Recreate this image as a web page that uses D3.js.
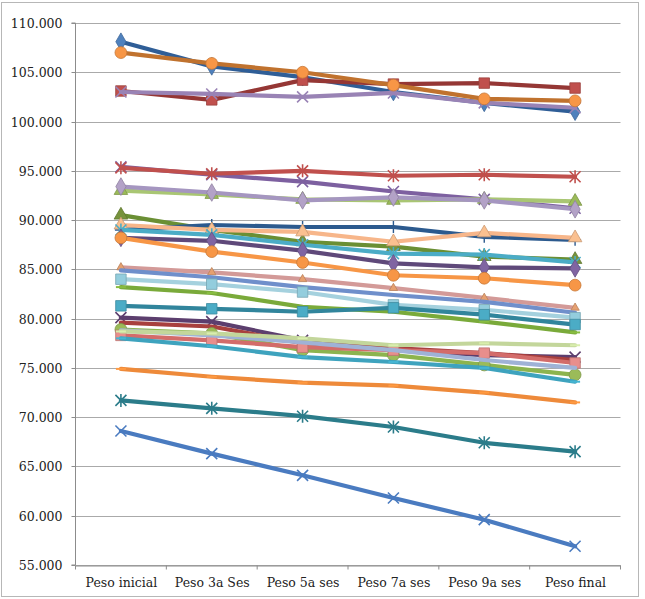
<!DOCTYPE html>
<html>
<head>
<meta charset="utf-8">
<script src="https://cdn.jsdelivr.net/npm/d3@7"></script>
<style>
  html, body { margin: 0; padding: 0; background: #fff; }
  svg { display: block; }
  text { font-family: "DejaVu Serif", "Liberation Serif", serif; fill: #222; }
</style>
</head>
<body>
<svg id="chart" width="645" height="599"></svg>
<script>
// ---------------- DATA ----------------
const categories = ["Peso inicial", "Peso 3a Ses", "Peso 5a ses", "Peso 7a ses", "Peso 9a ses", "Peso final"];
const yTicks = [55, 60, 65, 70, 75, 80, 85, 90, 95, 100, 105, 110];

const s01 = [108.1, 105.6, 104.5, 103.0, 101.9, 101.0];
const s02 = [103.1, 102.2, 104.2, 103.8, 103.9, 103.4];
const s03 = [103.0, 102.8, 102.5, 102.9, 101.9, 101.4];
const s04 = [107.0, 105.9, 105.0, 103.7, 102.3, 102.1];
const s05 = [95.4, 94.6, 93.9, 92.9, 92.1, 91.2];
const s06 = [95.3, 94.7, 95.0, 94.5, 94.6, 94.4];
const s07 = [93.0, 92.6, 92.1, 92.0, 92.1, 91.9];
const s08 = [93.4, 92.8, 92.0, 92.3, 92.0, 91.1];
const s09 = [90.5, 89.0, 87.8, 87.3, 86.3, 86.0];
const s10 = [89.0, 89.5, 89.3, 89.3, 88.3, 88.0];
const s11 = [89.5, 89.0, 88.8, 87.8, 88.7, 88.2];
const s12 = [89.0, 88.5, 87.5, 86.6, 86.5, 85.7];
const s13 = [88.2, 87.9, 86.9, 85.6, 85.2, 85.1];
const s14 = [88.2, 86.8, 85.7, 84.4, 84.1, 83.4];
const s15 = [85.2, 84.7, 84.0, 83.1, 82.1, 81.1];
const s16 = [84.9, 84.2, 83.2, 82.4, 81.7, 80.6];
const s17 = [84.0, 83.5, 82.7, 81.4, 80.9, 80.1];
const s18 = [83.2, 82.6, 81.2, 80.7, 79.7, 78.6];
const s19 = [81.3, 81.0, 80.7, 81.1, 80.4, 79.4];
const s20 = [80.1, 79.7, 77.8, 76.8, 76.3, 76.1];
const s21 = [79.6, 79.2, 77.5, 77.0, 76.5, 75.8];
const s22 = [78.9, 78.5, 76.8, 76.3, 75.3, 74.3];
const s23 = [78.3, 77.8, 77.1, 76.8, 76.5, 75.5];
const s24 = [78.8, 78.3, 77.6, 76.8, 75.8, 75.0];
const s25 = [78.7, 78.5, 78.0, 77.3, 77.5, 77.3];
const s26 = [78.0, 77.2, 76.1, 75.6, 75.0, 73.6];
const s27 = [74.9, 74.1, 73.5, 73.2, 72.5, 71.5];
const s28 = [71.7, 70.9, 70.1, 69.0, 67.4, 66.5];
const s29 = [68.6, 66.3, 64.1, 61.8, 59.6, 56.9];

const seriesValues = [s01, s02, s03, s04, s05, s06, s07, s08, s09, s10, s11, s12, s13, s14, s15,
                      s16, s17, s18, s19, s20, s21, s22, s23, s24, s25, s26, s27, s28, s29];

// ---------------- STYLES (separate from data) ----------------
const styles = [
  { line: "#2F5E97", fill: "#4F81BD", marker: "diamond" },
  { line: "#953735", fill: "#C0504D", marker: "square" },
  { line: "#9983B5", fill: "#9983B5", marker: "x" },
  { line: "#C0722E", fill: "#F79646", marker: "circle" },
  { line: "#7D60A0", fill: "#7D60A0", marker: "x" },
  { line: "#C0504D", fill: "#C0504D", marker: "star" },
  { line: "#A9C673", fill: "#9BBB59", marker: "triangle" },
  { line: "#A596C0", fill: "#B3A2C7", marker: "diamond" },
  { line: "#6A8F34", fill: "#77933C", marker: "triangle" },
  { line: "#2C5A8E", fill: "#2C5A8E", marker: "plus" },
  { line: "#F7B68A", fill: "#FAC090", marker: "triangle" },
  { line: "#4BACC6", fill: "#4BACC6", marker: "star" },
  { line: "#5F497A", fill: "#8064A2", marker: "diamond" },
  { line: "#F79646", fill: "#F79646", marker: "circle" },
  { line: "#D39A98", fill: "#E6A070", marker: "triangleSmall" },
  { line: "#6F8FCB", fill: "#6F8FCB", marker: "none" },
  { line: "#A5D1DE", fill: "#93CDDD", marker: "square" },
  { line: "#7AAA3A", fill: "#7AAA3A", marker: "dash" },
  { line: "#31859C", fill: "#4BACC6", marker: "square" },
  { line: "#5C3E6E", fill: "#5C3E6E", marker: "x" },
  { line: "#A8403E", fill: "#A8403E", marker: "none" },
  { line: "#8CB44E", fill: "#9BBB59", marker: "circle" },
  { line: "#D36C6A", fill: "#E88E8C", marker: "square" },
  { line: "#9FB2D6", fill: "#9FB2D6", marker: "none" },
  { line: "#C3D69B", fill: "#C3D69B", marker: "dash" },
  { line: "#3EA3BE", fill: "#3EA3BE", marker: "dash" },
  { line: "#EE8A3A", fill: "#EE8A3A", marker: "dash" },
  { line: "#2B7C8A", fill: "#2B7C8A", marker: "star" },
  { line: "#4A7BC0", fill: "#4A7BC0", marker: "x" }
];

// ---------------- CHART ----------------
const svg = d3.select("#chart");
const plot = { left: 75.5, right: 620.5, top: 23, bottom: 565 };

// outer frame
svg.append("rect")
  .attr("x", 1.5).attr("y", 2.5).attr("width", 637).attr("height", 594)
  .attr("fill", "none").attr("stroke", "#b7b7b7").attr("stroke-width", 1);

const x = d3.scalePoint().domain(categories).range([plot.left, plot.right]).padding(0.5);
const y = d3.scaleLinear().domain([55, 110]).range([plot.bottom, plot.top]);

// gridlines
svg.append("g").selectAll("line").data(yTicks).join("line")
  .attr("x1", plot.left).attr("x2", plot.right)
  .attr("y1", d => Math.round(y(d)) + 0.5).attr("y2", d => Math.round(y(d)) + 0.5)
  .attr("stroke", "#aaaaaa").attr("stroke-width", 1);

// y axis
const yAxis = d3.axisLeft(y).tickValues(yTicks).tickSize(4).tickPadding(9)
  .tickFormat(d => d3.format(".3f")(d).replace(",", ""));
const gy = svg.append("g").attr("transform", `translate(${plot.left},0)`).call(yAxis);
gy.select(".domain").attr("stroke", "#8c8c8c").attr("d", `M-4,${plot.top}H0V${plot.bottom}H-4`);
gy.selectAll(".tick line").attr("stroke", "#8c8c8c");
gy.selectAll(".tick text").style("font-family", "DejaVu Serif, serif").style("font-size", "12.5px").attr("fill", "#222");
gy.selectAll(".tick").attr("transform", d => `translate(0,${Math.round(y(d)) + 0.5})`);

// x axis
const xAxis = d3.axisBottom(x).tickSize(0).tickPadding(13);
const gx = svg.append("g").attr("transform", `translate(0,${Math.round(y(55)) + 0.5})`).call(xAxis);
gx.select(".domain").attr("stroke", "#8c8c8c");
gx.selectAll(".tick text").style("font-family", "DejaVu Serif, serif").style("font-size", "12.5px").attr("fill", "#222");
// category boundary ticks
const step = x.step();
gx.append("g").selectAll("line").data(d3.range(categories.length + 1)).join("line")
  .attr("x1", i => plot.left + i * step).attr("x2", i => plot.left + i * step)
  .attr("y1", 0).attr("y2", 4).attr("stroke", "#8c8c8c");

// lines
const line = d3.line().x((d, i) => x(categories[i])).y(d => y(d));

const markerPath = (type) => {
  switch (type) {
    case "diamond": return d3.symbol(d3.symbolDiamond, 90)();
    case "square": return d3.symbol(d3.symbolSquare, 110)();
    case "triangle": return d3.symbol(d3.symbolTriangle, 80)();
    case "triangleSmall": return d3.symbol(d3.symbolTriangle, 30)();
    case "circle": return d3.symbol(d3.symbolCircle, 110)();
    default: return null;
  }
};

const gSeries = svg.append("g");
seriesValues.forEach((vals, k) => {
  const st = styles[k];
  const g = gSeries.append("g");
  g.append("path").datum(vals).attr("d", line)
    .attr("fill", "none").attr("stroke", st.line).attr("stroke-width", 4.2)
    .attr("stroke-linejoin", "round").attr("stroke-linecap", "round");
  const pts = g.selectAll("g.m").data(vals).join("g").attr("class", "m")
    .attr("transform", (d, i) => `translate(${x(categories[i])},${y(d)})`);
  const p = markerPath(st.marker);
  if (p) {
    pts.append("path").attr("d", p).attr("fill", st.fill)
      .attr("stroke", d3.color(st.fill).darker(0.6)).attr("stroke-width", 0.8);
  } else if (st.marker === "x" || st.marker === "star") {
    const r = 5.5;
    let d = `M${-r},${-r}L${r},${r}M${-r},${r}L${r},${-r}`;
    if (st.marker === "star") d += `M0,${-r - 1}L0,${r + 1}`;
    pts.append("path").attr("d", d).attr("stroke", st.fill).attr("stroke-width", 1.6).attr("fill", "none");
  } else if (st.marker === "plus") {
    pts.append("path").attr("d", "M0,-6L0,6M-6,0L6,0").attr("stroke", st.fill).attr("stroke-width", 1.4);
  } else if (st.marker === "dash") {
    pts.append("path").attr("d", "M-5,0L5,0").attr("stroke", d3.color(st.fill).brighter(0.3)).attr("stroke-width", 2);
  }
});
</script>
</body>
</html>
